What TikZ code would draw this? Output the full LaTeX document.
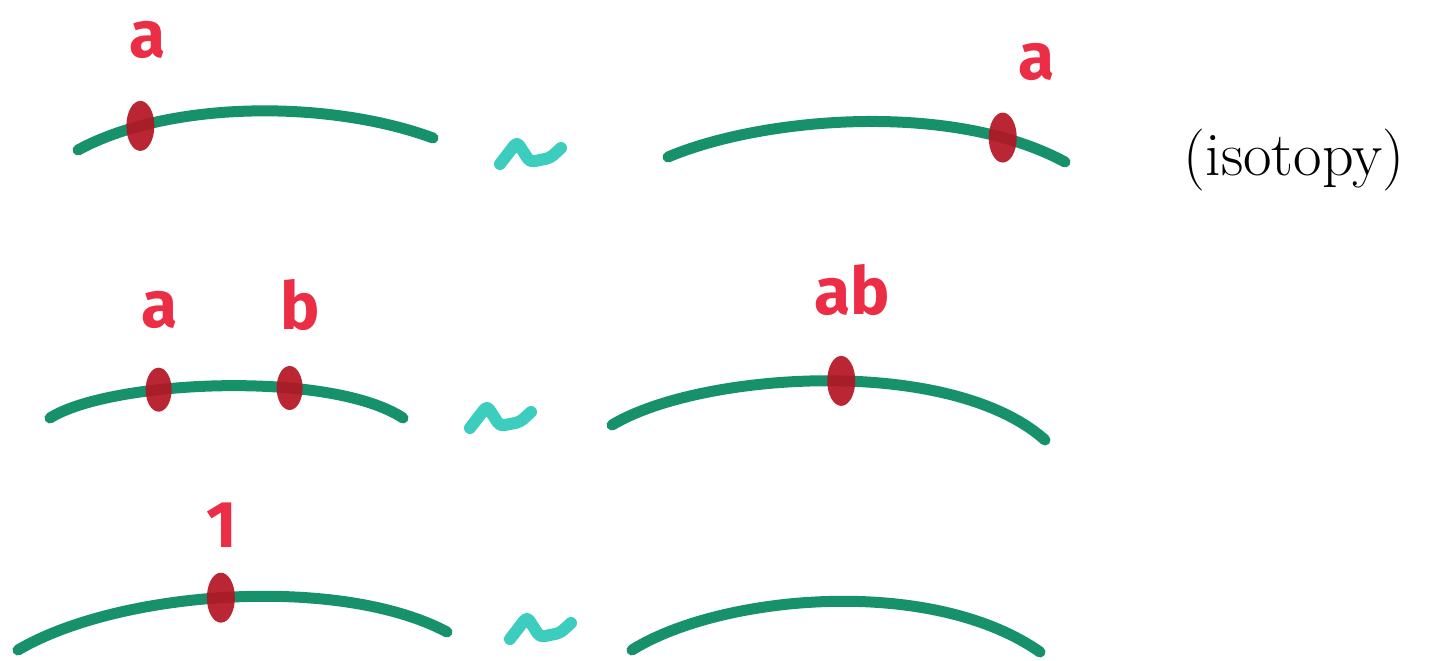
\documentclass[tikz,border=0pt]{standalone}
\usepackage{fontspec}
\usetikzlibrary{shapes.geometric,calc}
\newfontfamily\handfont{Fira Sans}
\definecolor{curvegreen}{RGB}{22,145,105}
\definecolor{dotred}{RGB}{180,20,35}
\definecolor{labred}{RGB}{235,45,70}
\definecolor{tildecyan}{RGB}{60,205,190}
\begin{document}
\begin{tikzpicture}[x=1pt,y=-1pt,
  strand/.style={draw=curvegreen,line width=11pt,line cap=round},
  bead/.style={ellipse,fill=dotred,fill opacity=0.92,minimum width=28pt,minimum height=50pt,inner sep=0pt},
  lab/.style={text=labred,font=\handfont\bfseries\fontsize{66}{66}\selectfont,inner sep=0pt},
  equiv/.style={draw=tildecyan,line width=12pt,line cap=round,line join=round,rounded corners=4pt},
  iso/.style={font=\fontsize{62}{66}\selectfont,inner sep=0pt}]
\useasboundingbox (0,0) rectangle (1430,661);
% row 1
\path[strand] (78,150) .. controls (170,100) and (330,100) .. (433,138)
  node[bead,pos=0.2] (d1) {};
\path[strand] (668,157) .. controls (760,118) and (950,100) .. (1065,162)
  node[bead,pos=0.835] (d2) {};
\node[lab] (l1) at (148,40) {a};
\node[lab] (l2) at (1037,62) {a};
\coordinate (t1) at (530,152);
\draw[equiv] ($(t1)+(-30,12)$) -- ($(t1)+(-13,-10)$) -- ($(t1)+(0,10)$) -- ($(t1)+(20,6)$) -- ($(t1)+(31,-4)$);
\node[iso] (iso) at (1294,160) {(isotopy)};
% row 2
\path[strand] (50,418) .. controls (110,380) and (330,370) .. (403,418)
  node[bead,minimum height=44pt,minimum width=26pt,pos=0.35] (d3) {}
  node[bead,minimum height=44pt,minimum width=26pt,pos=0.66] (d4) {};
\path[strand] (612,425) .. controls (700,372) and (950,355) .. (1045,440)
  node[bead,pos=0.53] (d5) {};
\node[lab] (l3) at (160,310) {a};
\node[lab] (l4) at (300,305) {b};
\node[lab] (l5) at (852,290) {ab};
\coordinate (t2) at (500,416);
\draw[equiv] ($(t2)+(-30,12)$) -- ($(t2)+(-13,-10)$) -- ($(t2)+(0,10)$) -- ($(t2)+(20,6)$) -- ($(t2)+(31,-4)$);
% row 3
\path[strand] (18,650) .. controls (120,590) and (340,575) .. (447,632)
  node[bead,pos=0.48] (d6) {};
\path[strand] (632,650) .. controls (720,595) and (930,575) .. (1040,652);
\node[lab] (l6) at (222,525) {1};
\coordinate (t3) at (540,627);
\draw[equiv] ($(t3)+(-30,12)$) -- ($(t3)+(-13,-10)$) -- ($(t3)+(0,10)$) -- ($(t3)+(20,6)$) -- ($(t3)+(31,-4)$);
\end{tikzpicture}
\end{document}
